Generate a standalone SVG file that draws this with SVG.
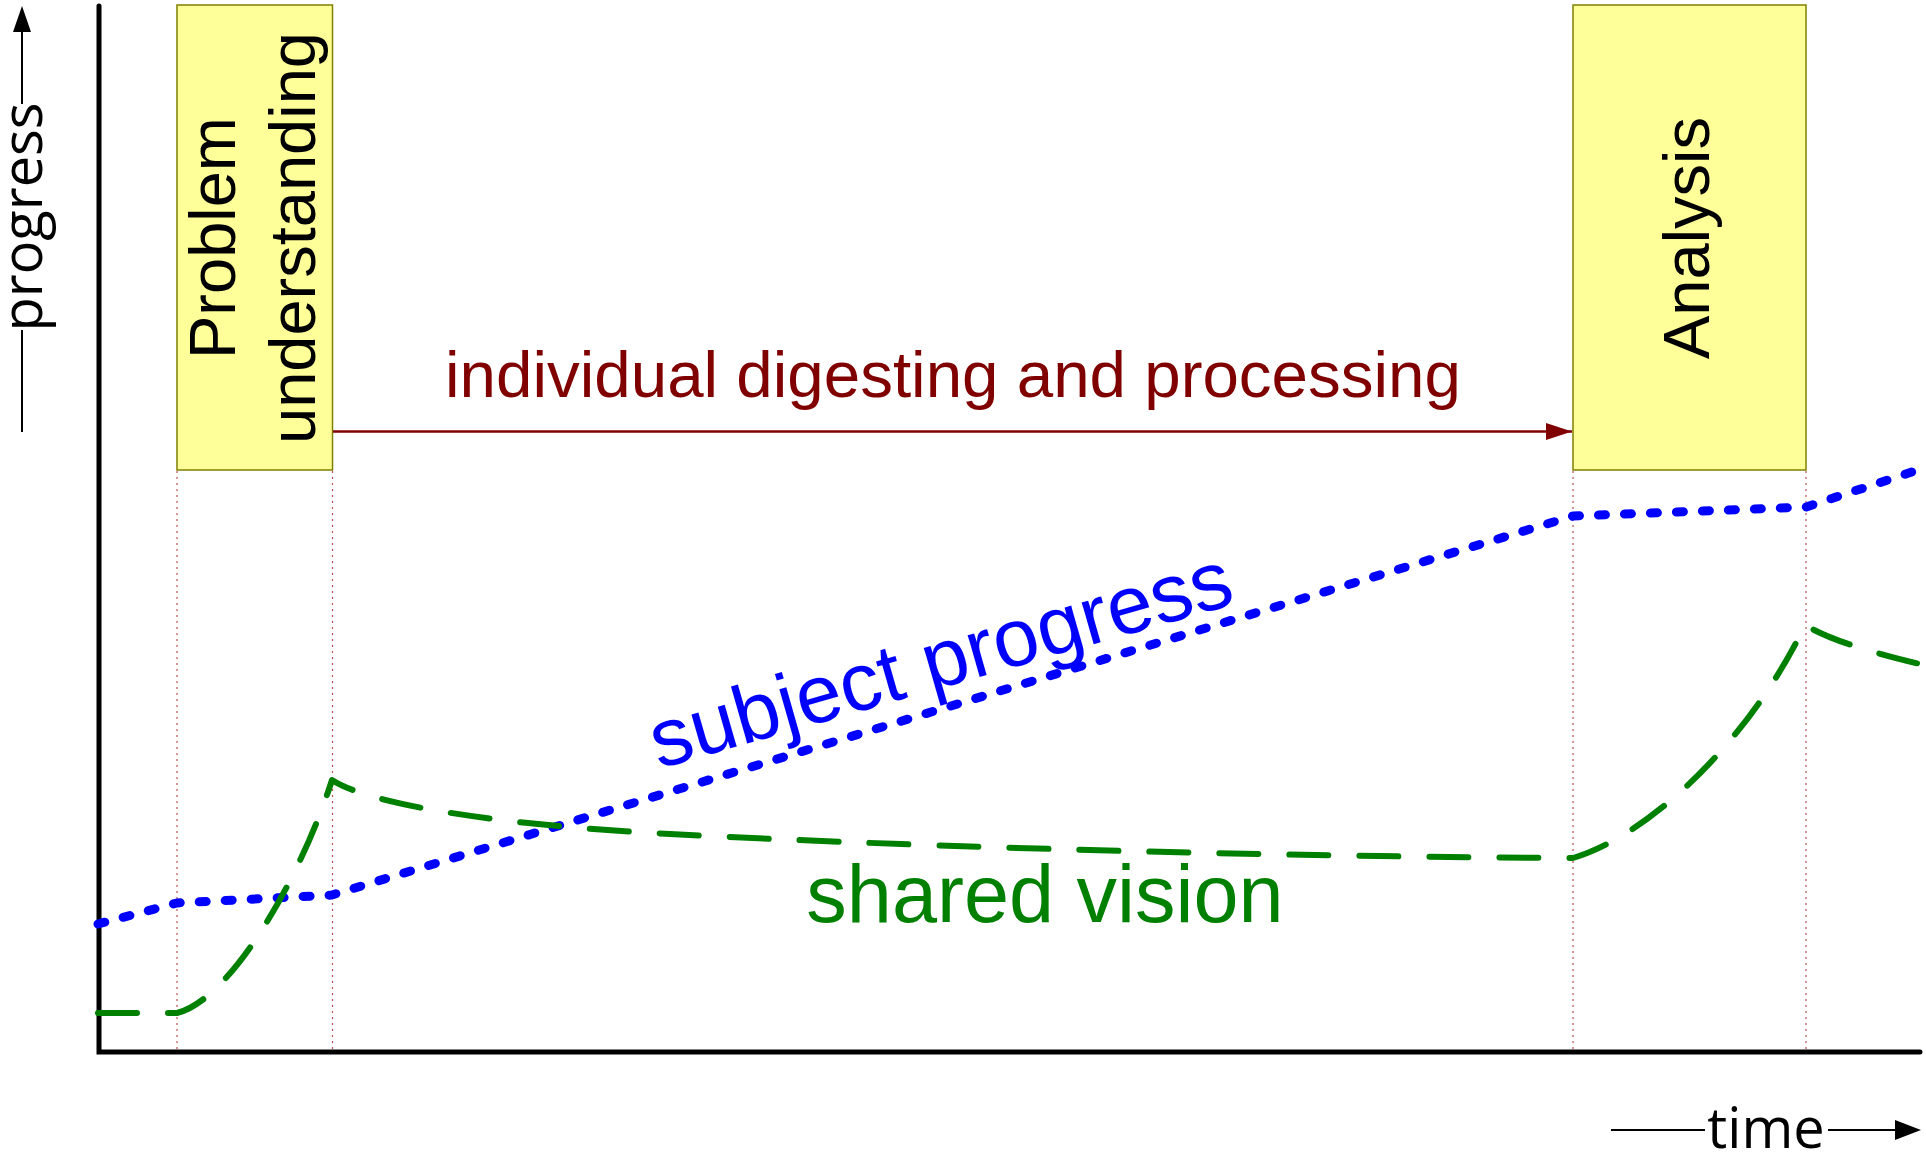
<svg xmlns="http://www.w3.org/2000/svg" width="1926" height="1156" viewBox="0 0 1926 1156">
  <defs>
    <style>
      .box { fill: #ffff99; stroke: #808000; stroke-width: 1.5; }
      .boxtext { font-family: "Liberation Sans", Arial, sans-serif; font-size: 65px; fill: #000000; text-anchor: middle; }
      .axislabel { font-family: "Open Sans", "DejaVu Sans", sans-serif; font-size: 56px; fill: #000000; text-anchor: middle; }
      .guide { fill: none; stroke: #c05050; stroke-width: 1.2; stroke-dasharray: 2 4; }
      .axis { fill: none; stroke: #000000; stroke-width: 5; stroke-linecap: round; stroke-linejoin: miter; }
      .thin { fill: none; stroke: #000000; stroke-width: 2; }
      .subject { fill: none; stroke: #0000ff; stroke-width: 9; stroke-linecap: round; stroke-linejoin: round; stroke-dasharray: 7 19; }
      .shared { fill: none; stroke: #008000; stroke-width: 6; stroke-linecap: round; stroke-linejoin: round; stroke-dasharray: 39 31; }
    </style>
    <marker id="arrowRed" viewBox="0 0 26 17" refX="26" refY="8.5" markerWidth="26" markerHeight="17" markerUnits="userSpaceOnUse" orient="auto">
      <path d="M0,0 L26,8.5 L0,17 Z" fill="#800000"/>
    </marker>
  </defs>

  <rect x="0" y="0" width="1926" height="1156" fill="#ffffff"/>

  <g id="guides">
    <line class="guide" x1="177" y1="471" x2="177" y2="1050"/>
    <line class="guide" x1="332.5" y1="471" x2="332.5" y2="1050"/>
    <line class="guide" x1="1573" y1="471" x2="1573" y2="1050"/>
    <line class="guide" x1="1806" y1="471" x2="1806" y2="1050"/>
  </g>

  <g id="axes">
    <polyline class="axis" points="99,6 99,1052 1920,1052"/>
  </g>

  <g id="progress-label">
    <line class="thin" x1="22" y1="432" x2="22" y2="330"/>
    <line class="thin" x1="22" y1="104" x2="22" y2="30"/>
    <polygon points="22,6 13,32 31,32" fill="#000000"/>
    <text class="axislabel" transform="translate(42,217) rotate(-90)">progress</text>
  </g>

  <g id="time-label">
    <line class="thin" x1="1611" y1="1130" x2="1705" y2="1130"/>
    <line class="thin" x1="1828" y1="1130" x2="1897" y2="1130"/>
    <polygon points="1921,1130 1895,1120 1895,1140" fill="#000000"/>
    <text class="axislabel" x="1766" y="1148">time</text>
  </g>

  <g id="node-problem-understanding">
    <rect class="box" x="177" y="5" width="155.5" height="465"/>
    <text class="boxtext" transform="translate(235,238) rotate(-90)">Problem</text>
    <text class="boxtext" transform="translate(315,238) rotate(-90)">understanding</text>
  </g>

  <g id="node-analysis">
    <rect class="box" x="1573" y="5" width="233" height="465"/>
    <text class="boxtext" transform="translate(1709,238) rotate(-90)">Analysis</text>
  </g>

  <g id="connectors">
    <line x1="333" y1="431.5" x2="1572" y2="431.5" stroke="#800000" stroke-width="2.5" marker-end="url(#arrowRed)"/>
    <text x="953" y="397" font-family="Liberation Sans, Arial, sans-serif" font-size="65.5" fill="#800000" text-anchor="middle">individual digesting and processing</text>
  </g>

  <g id="curve-subject-progress">
    <path class="subject" d="M98,924 L177,903 L332,895 L1573,516 L1806,507 L1918,470"/>
    <text transform="translate(948,686) rotate(-16)" font-family="Liberation Sans, Arial, sans-serif" font-size="82" fill="#0000ff" text-anchor="middle">subject progress</text>
  </g>

  <g id="curve-shared-vision">
    <path class="shared" d="M98,1013 L177,1013 C230,1000 300,880 332,780 C365,802 480,824 670,834 C860,844 1200,856 1573,858 C1650,835 1750,740 1805,625 C1830,640 1870,652 1920,664"/>
    <text x="1045" y="922" font-family="Liberation Sans, Arial, sans-serif" font-size="81" fill="#008000" text-anchor="middle">shared vision</text>
  </g>
</svg>
